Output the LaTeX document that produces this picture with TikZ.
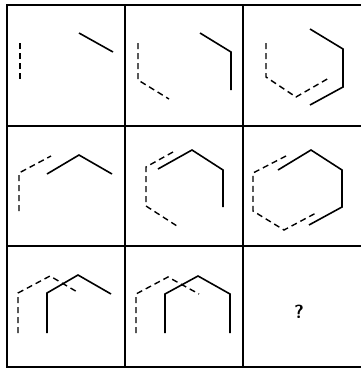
\documentclass[tikz,border=0pt]{standalone}
\usepackage{tikz}
\begin{document}
\begin{tikzpicture}[x=1pt, y=-1pt,
  gl/.style={line width=1.7pt, color=black},
  sl/.style={line width=1.6pt, line join=miter},
  dl/.style={line width=1.4pt, dash pattern=on 6pt off 4pt}
]
  \useasboundingbox (0,0) rectangle (361,370);
  % grid
  \draw[gl] (361,5) -- (7,5) -- (7,367) -- (361,367);
  \draw[gl] (125,5) -- (125,367);
  \draw[gl] (243,5) -- (243,367);
  \draw[gl] (7,126) -- (361,126);
  \draw[gl] (7,246) -- (361,246);
  % row 1
  \draw[dl] (20,43) -- (20,80);
  \draw[sl] (79,33) -- (113,52);
  \draw[dl] (138,43) -- (138,80) -- (169,99);
  \draw[sl] (200,33) -- (231,52) -- (231,90);
  \draw[dl] (266,43) -- (266,77) -- (296,97) -- (329,78);
  \draw[sl] (310,29) -- (343,49) -- (343,87) -- (310,105);
  % row 2
  \draw[dl] (19,211) -- (19,173) -- (51,156);
  \draw[sl] (47,174) -- (79,155) -- (112,174);
  \draw[dl] (173,152) -- (146,167) -- (146,206) -- (177,226);
  \draw[sl] (158,169) -- (192,150) -- (223,170) -- (223,207);
  \draw[dl] (286,156) -- (253,173) -- (253,211) -- (284,230) -- (316,213);
  \draw[sl] (278,170) -- (311,150) -- (342,170) -- (342,207) -- (309,225);
  % row 3
  \draw[dl] (18,333) -- (18,293) -- (50,276) -- (79,293);
  \draw[sl] (47,333) -- (47,293) -- (78,275) -- (111,294);
  \draw[dl] (136,333) -- (136,294) -- (168,277) -- (199,294);
  \draw[sl] (165,333) -- (165,294) -- (198,276) -- (230,294) -- (230,333);
  \node[font=\fontsize{19}{19}\selectfont\sffamily\bfseries] (q) at (299,312) {?};
\end{tikzpicture}
\end{document}
